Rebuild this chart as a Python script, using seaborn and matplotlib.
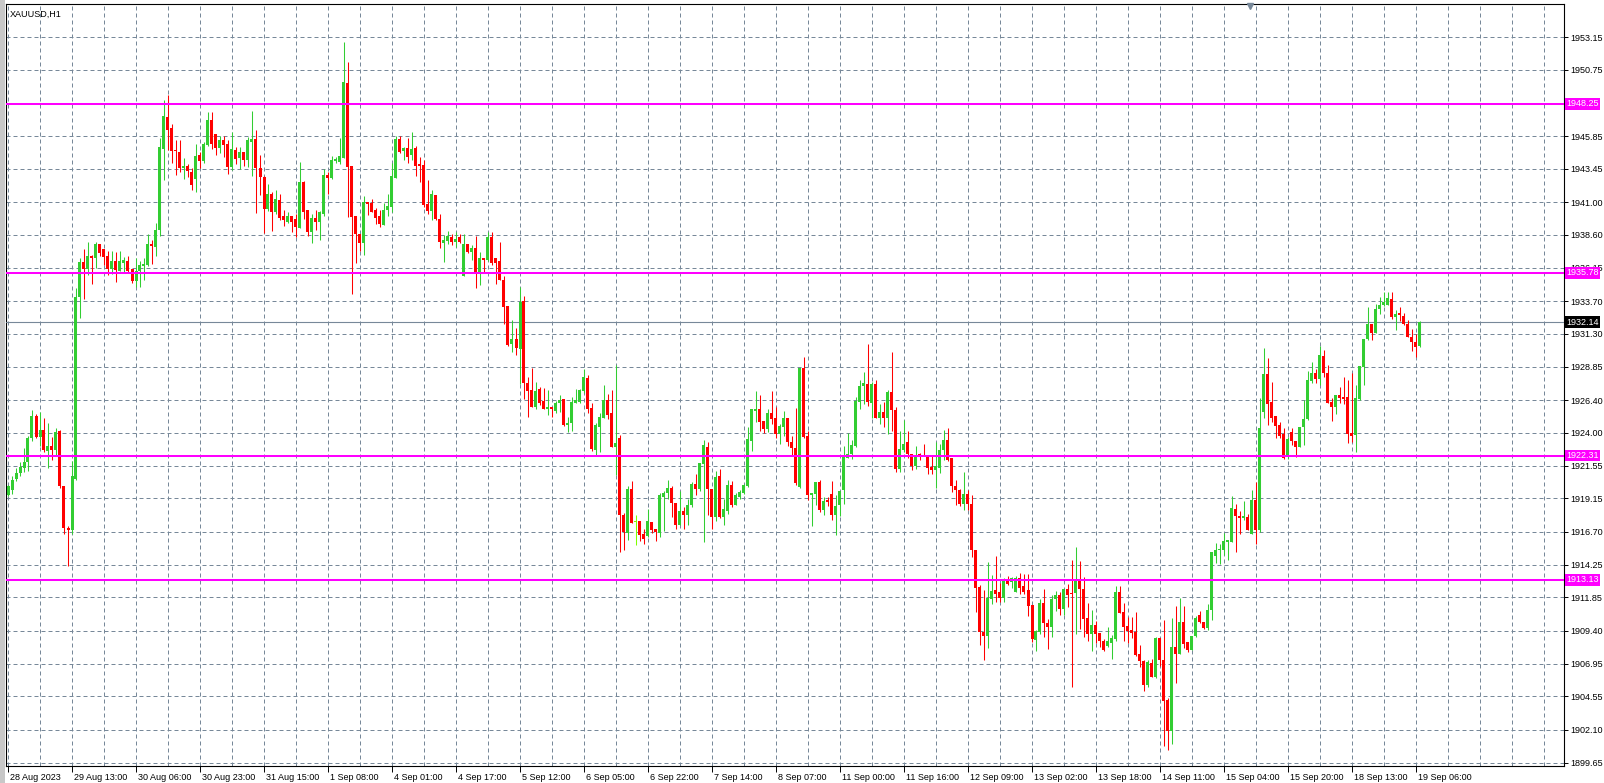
import matplotlib
matplotlib.use("Agg")
import matplotlib.pyplot as plt
import matplotlib.transforms as mtransforms
from matplotlib import font_manager
from matplotlib.patches import Rectangle
import numpy as np
import pandas as pd
import seaborn as sns

symbol_title = "XAUUSD,H1"

# hourly candles (bar 0 = 28 Aug 2023 20:00)
opens = [
    1919.40, 1919.79, 1920.58, 1921.00, 1921.37, 1921.81, 1923.58, 1925.26, 1923.68, 1924.22, 1922.65, 1923.04, 1922.70, 1924.12, 1920.09, 1916.99,
    1916.79, 1920.58, 1934.01, 1936.57, 1936.08, 1937.06, 1936.87, 1937.90, 1937.56, 1937.01, 1936.03, 1936.62, 1935.93, 1936.52, 1936.62, 1936.03,
    1935.17, 1935.90, 1936.25, 1936.35, 1937.92, 1937.72, 1938.95, 1944.91, 1947.27, 1946.43, 1944.86, 1944.71, 1943.48, 1943.68, 1943.24, 1942.69,
    1944.51, 1944.02, 1945.20, 1947.02, 1945.99, 1944.96, 1945.60, 1945.25, 1943.58, 1944.86, 1944.22, 1944.66, 1944.07, 1945.40, 1945.65, 1943.53,
    1942.85, 1940.48, 1941.57, 1940.24, 1941.18, 1939.94, 1939.55, 1939.94, 1939.75, 1939.06, 1942.50, 1940.39, 1938.76, 1939.85, 1939.50, 1940.14,
    1942.99, 1942.75, 1944.03, 1943.93, 1944.22, 1949.78, 1943.63, 1939.94, 1938.66, 1937.97, 1941.03, 1940.93, 1940.39, 1939.99, 1939.30, 1940.39,
    1940.65, 1942.81, 1945.62, 1944.78, 1944.98, 1944.44, 1944.98, 1943.80, 1943.75, 1940.85, 1940.31, 1941.54, 1939.76, 1937.99, 1938.14, 1938.44,
    1938.09, 1938.39, 1935.58, 1937.94, 1937.35, 1937.65, 1935.68, 1936.91, 1936.76, 1938.44, 1936.91, 1936.62, 1935.24, 1933.32, 1930.51, 1930.91,
    1930.20, 1933.74, 1927.69, 1927.15, 1925.87, 1927.20, 1926.36, 1925.77, 1925.87, 1925.62, 1926.16, 1926.46, 1924.54, 1924.69, 1926.16, 1926.26,
    1927.05, 1927.99, 1925.82, 1922.72, 1924.44, 1925.08, 1926.41, 1925.43, 1922.92, 1923.61, 1917.90, 1916.62, 1919.87, 1917.38, 1917.51, 1916.52,
    1916.37, 1917.41, 1916.92, 1916.62, 1919.28, 1919.52, 1919.92, 1918.79, 1917.21, 1918.24, 1917.95, 1918.64, 1920.21, 1919.82, 1921.69, 1922.97,
    1919.87, 1917.75, 1920.80, 1917.75, 1918.19, 1920.11, 1918.69, 1919.23, 1919.57, 1920.06, 1923.36, 1925.62, 1925.77, 1924.89, 1924.30, 1925.48,
    1925.06, 1923.88, 1924.42, 1925.06, 1923.34, 1922.89, 1919.99, 1928.80, 1923.78, 1919.40, 1919.45, 1920.39, 1918.32, 1919.01, 1919.50, 1917.92,
    1918.66, 1919.74, 1922.15, 1922.40, 1922.99, 1926.29, 1927.42, 1927.62, 1926.19, 1927.57, 1925.11, 1925.55, 1925.06, 1927.03, 1925.65, 1921.35,
    1922.74, 1923.28, 1922.45, 1921.56, 1922.40, 1922.35, 1922.35, 1921.46, 1921.27, 1921.41, 1922.74, 1923.43, 1922.10, 1920.04, 1919.74, 1918.71,
    1919.50, 1918.76, 1915.36, 1912.61, 1909.31, 1908.97, 1911.72, 1912.41, 1912.22, 1911.77, 1913.15, 1912.95, 1912.26, 1913.30, 1912.66, 1912.36,
    1911.26, 1908.70, 1909.29, 1911.40, 1909.98, 1909.63, 1911.75, 1912.00, 1910.96, 1912.44, 1912.19, 1912.14, 1913.17, 1912.49, 1910.32, 1909.14,
    1909.78, 1909.19, 1908.65, 1908.26, 1908.50, 1908.80, 1912.24, 1910.76, 1909.73, 1909.43, 1909.29, 1907.66, 1907.17, 1905.35, 1907.02, 1905.99,
    1908.87, 1907.25, 1904.30, 1902.00, 1908.18, 1907.69, 1910.05, 1908.52, 1907.98, 1908.97, 1910.54, 1910.05, 1909.56, 1910.89, 1914.92, 1915.31,
    1915.31, 1915.95, 1915.95, 1918.37, 1917.87, 1917.73, 1917.78, 1916.54, 1919.00, 1916.84, 1925.55, 1928.35, 1926.24, 1925.20, 1924.56, 1923.88,
    1922.17, 1924.04, 1923.40, 1922.96, 1924.39, 1924.98, 1927.83, 1928.42, 1927.98, 1929.65, 1928.42, 1926.26, 1925.87, 1926.75, 1926.65, 1926.65,
    1923.95, 1923.80, 1926.50, 1928.86, 1930.88, 1932.01, 1931.33, 1933.10, 1933.39, 1933.39, 1933.88, 1932.51, 1932.80, 1932.60, 1932.01, 1931.08,
    1930.69, 1930.39,
]
highs = [
    1920.14, 1920.83, 1921.42, 1921.81, 1922.89, 1923.78, 1925.65, 1925.40, 1925.50, 1925.11, 1924.71, 1923.68, 1924.37, 1924.22, 1920.09, 1917.14,
    1921.91, 1934.70, 1936.90, 1937.51, 1938.05, 1937.11, 1938.05, 1937.90, 1937.56, 1937.41, 1937.36, 1937.31, 1937.36, 1936.97, 1937.06, 1936.03,
    1936.84, 1936.64, 1936.89, 1938.66, 1938.17, 1939.45, 1945.70, 1948.55, 1948.89, 1946.78, 1945.55, 1945.55, 1944.27, 1943.83, 1943.53, 1945.25,
    1944.66, 1945.40, 1947.61, 1947.61, 1945.99, 1945.89, 1945.84, 1945.55, 1946.19, 1945.06, 1945.06, 1944.66, 1945.79, 1947.71, 1946.34, 1944.50,
    1942.90, 1942.35, 1941.71, 1941.91, 1941.57, 1940.44, 1940.24, 1939.94, 1940.09, 1943.93, 1942.55, 1940.39, 1940.14, 1940.44, 1940.34, 1943.44,
    1943.24, 1944.37, 1944.32, 1945.70, 1952.83, 1951.36, 1943.63, 1939.94, 1938.66, 1941.42, 1941.03, 1941.22, 1940.54, 1940.44, 1940.93, 1941.57,
    1943.90, 1945.91, 1945.91, 1945.08, 1945.72, 1946.16, 1945.13, 1944.34, 1944.09, 1942.62, 1941.88, 1941.54, 1940.11, 1938.58, 1938.88, 1938.68,
    1938.78, 1938.68, 1938.68, 1937.94, 1937.85, 1938.53, 1937.35, 1936.91, 1938.78, 1938.83, 1936.91, 1938.09, 1935.58, 1933.32, 1932.29, 1931.74,
    1934.73, 1934.04, 1928.13, 1928.77, 1927.74, 1927.35, 1927.30, 1927.15, 1925.87, 1926.31, 1926.80, 1926.51, 1925.13, 1926.61, 1927.20, 1927.25,
    1928.72, 1928.23, 1926.17, 1924.69, 1925.43, 1927.54, 1926.85, 1927.15, 1929.02, 1923.85, 1918.10, 1920.06, 1920.46, 1917.95, 1917.51, 1916.92,
    1918.34, 1917.41, 1916.92, 1919.52, 1919.67, 1920.51, 1920.06, 1918.79, 1919.72, 1918.49, 1919.13, 1920.36, 1920.95, 1921.74, 1923.46, 1923.31,
    1919.87, 1921.20, 1921.29, 1919.08, 1920.51, 1920.41, 1919.57, 1919.77, 1920.21, 1924.44, 1925.72, 1927.05, 1926.76, 1924.89, 1925.72, 1927.05,
    1925.90, 1924.67, 1925.60, 1925.06, 1923.78, 1925.85, 1928.80, 1929.54, 1924.12, 1919.55, 1920.34, 1920.53, 1919.25, 1919.25, 1920.44, 1919.40,
    1919.70, 1923.04, 1923.98, 1923.48, 1926.63, 1927.86, 1928.45, 1930.52, 1927.72, 1927.86, 1926.14, 1926.29, 1927.17, 1929.93, 1925.90, 1924.12,
    1924.91, 1924.12, 1922.45, 1922.99, 1922.50, 1923.18, 1922.35, 1922.35, 1923.33, 1923.18, 1924.17, 1924.32, 1922.10, 1920.53, 1919.84, 1921.12,
    1919.79, 1919.40, 1915.36, 1912.75, 1912.41, 1914.48, 1913.49, 1914.87, 1912.90, 1913.25, 1913.44, 1913.34, 1913.44, 1913.64, 1913.59, 1913.59,
    1911.26, 1909.43, 1911.75, 1912.44, 1910.27, 1912.00, 1912.34, 1912.24, 1912.44, 1912.83, 1914.60, 1915.54, 1914.55, 1913.37, 1911.45, 1910.91,
    1910.12, 1909.19, 1908.75, 1909.68, 1909.04, 1912.68, 1912.68, 1911.45, 1910.42, 1910.42, 1910.76, 1908.35, 1907.22, 1907.22, 1907.32, 1908.94,
    1908.87, 1910.15, 1904.40, 1910.30, 1911.18, 1911.82, 1911.23, 1908.52, 1909.02, 1910.45, 1910.84, 1910.05, 1911.33, 1915.17, 1915.86, 1915.76,
    1916.59, 1916.05, 1919.35, 1918.71, 1918.22, 1918.96, 1918.02, 1919.79, 1920.38, 1926.58, 1930.22, 1929.48, 1927.71, 1925.20, 1924.81, 1924.32,
    1923.70, 1924.34, 1923.40, 1924.44, 1926.41, 1928.57, 1929.21, 1928.72, 1930.39, 1930.10, 1929.01, 1926.55, 1926.75, 1927.34, 1928.08, 1927.88,
    1928.37, 1927.54, 1928.91, 1930.93, 1933.29, 1932.01, 1933.49, 1934.03, 1934.38, 1934.38, 1934.38, 1933.05, 1933.24, 1932.85, 1932.31, 1931.62,
    1931.28, 1932.26,
]
lows = [
    1919.35, 1919.45, 1920.43, 1920.83, 1921.12, 1921.17, 1923.39, 1923.63, 1922.99, 1922.60, 1921.37, 1922.01, 1922.30, 1919.94, 1916.50, 1914.19,
    1916.50, 1920.53, 1932.44, 1933.87, 1935.64, 1934.95, 1936.13, 1937.01, 1936.37, 1935.64, 1935.73, 1935.10, 1935.93, 1935.83, 1935.78, 1935.05,
    1934.77, 1934.72, 1935.22, 1936.30, 1936.40, 1936.99, 1938.51, 1942.60, 1944.86, 1943.92, 1942.99, 1943.24, 1942.69, 1942.84, 1941.86, 1941.76,
    1943.53, 1943.92, 1945.11, 1944.91, 1944.47, 1944.61, 1944.32, 1943.04, 1943.38, 1943.83, 1943.43, 1943.68, 1943.58, 1942.89, 1940.18, 1941.50,
    1938.71, 1940.34, 1938.86, 1940.09, 1939.70, 1939.25, 1939.45, 1938.76, 1938.42, 1939.06, 1939.75, 1938.52, 1937.98, 1938.96, 1938.17, 1939.99,
    1941.62, 1942.70, 1943.88, 1943.78, 1944.22, 1939.89, 1934.24, 1936.50, 1937.38, 1937.09, 1940.04, 1940.24, 1939.40, 1939.16, 1939.30, 1939.99,
    1940.26, 1942.81, 1944.64, 1944.09, 1943.85, 1944.14, 1942.91, 1942.47, 1940.65, 1940.11, 1939.67, 1939.67, 1937.65, 1936.57, 1937.89, 1937.80,
    1937.70, 1937.99, 1935.58, 1937.25, 1936.76, 1934.70, 1934.89, 1935.88, 1936.62, 1936.37, 1934.94, 1935.24, 1931.99, 1930.37, 1929.97, 1929.73,
    1927.59, 1926.51, 1925.13, 1925.87, 1925.77, 1926.02, 1925.72, 1925.28, 1925.18, 1925.48, 1925.53, 1924.49, 1924.05, 1924.15, 1926.16, 1926.21,
    1926.90, 1925.43, 1922.67, 1922.28, 1922.57, 1925.08, 1925.03, 1922.92, 1920.90, 1915.19, 1915.34, 1916.08, 1917.31, 1915.74, 1916.03, 1915.78,
    1916.33, 1916.62, 1915.98, 1916.33, 1916.77, 1919.08, 1917.75, 1916.87, 1917.21, 1916.87, 1917.16, 1918.49, 1919.38, 1919.72, 1915.93, 1917.95,
    1916.92, 1917.51, 1917.70, 1917.21, 1917.99, 1918.49, 1918.64, 1919.13, 1919.47, 1919.97, 1922.62, 1924.79, 1924.10, 1924.00, 1924.05, 1924.64,
    1923.63, 1923.14, 1923.73, 1922.99, 1922.35, 1920.14, 1919.94, 1923.63, 1919.06, 1917.09, 1918.66, 1918.17, 1917.92, 1918.61, 1917.58, 1916.45,
    1917.83, 1918.76, 1922.11, 1922.06, 1922.94, 1925.75, 1926.09, 1925.99, 1925.11, 1925.06, 1924.67, 1924.42, 1923.93, 1924.12, 1921.10, 1921.12,
    1922.59, 1922.15, 1921.22, 1921.32, 1921.95, 1922.25, 1920.97, 1920.92, 1919.94, 1921.02, 1921.95, 1921.90, 1919.64, 1918.66, 1918.56, 1918.31,
    1918.31, 1914.82, 1910.79, 1908.33, 1907.24, 1908.08, 1911.38, 1911.48, 1911.48, 1911.52, 1912.75, 1912.51, 1912.26, 1912.12, 1912.12, 1910.44,
    1908.55, 1907.86, 1909.14, 1908.94, 1908.01, 1908.94, 1910.86, 1910.52, 1910.52, 1911.11, 1905.25, 1909.14, 1909.48, 1908.94, 1908.60, 1907.86,
    1908.50, 1908.16, 1907.86, 1908.16, 1907.27, 1908.65, 1910.66, 1908.60, 1908.50, 1908.84, 1907.52, 1906.68, 1904.91, 1905.25, 1905.94, 1905.89,
    1906.80, 1900.90, 1900.60, 1901.00, 1905.52, 1907.64, 1908.08, 1907.84, 1907.98, 1908.92, 1909.95, 1909.51, 1909.46, 1910.15, 1914.38, 1914.33,
    1914.97, 1914.63, 1915.95, 1915.17, 1916.54, 1917.53, 1916.79, 1916.49, 1915.76, 1916.64, 1925.11, 1924.57, 1924.76, 1923.63, 1923.63, 1922.05,
    1922.08, 1923.11, 1922.22, 1922.96, 1923.06, 1924.93, 1927.68, 1927.68, 1927.49, 1928.13, 1926.16, 1924.83, 1925.37, 1926.21, 1926.11, 1923.21,
    1923.31, 1922.57, 1926.40, 1927.49, 1930.83, 1930.83, 1931.33, 1932.75, 1933.34, 1933.39, 1932.41, 1931.57, 1932.26, 1931.96, 1931.03, 1929.99,
    1929.55, 1930.34,
]
closes = [
    1920.04, 1920.53, 1921.02, 1921.47, 1921.86, 1923.63, 1925.26, 1923.68, 1924.22, 1922.70, 1923.04, 1922.70, 1924.07, 1920.04, 1916.94, 1916.79,
    1920.83, 1934.01, 1936.57, 1936.08, 1937.01, 1936.87, 1937.90, 1937.26, 1936.97, 1936.03, 1936.62, 1935.98, 1936.62, 1936.72, 1935.93, 1935.19,
    1935.95, 1936.35, 1936.40, 1937.92, 1937.77, 1938.95, 1945.06, 1947.32, 1946.29, 1944.76, 1944.76, 1943.48, 1943.68, 1943.28, 1942.25, 1944.42,
    1944.02, 1945.25, 1947.07, 1945.25, 1944.96, 1945.60, 1945.20, 1943.58, 1944.91, 1944.17, 1944.66, 1944.07, 1945.55, 1945.65, 1943.48, 1942.84,
    1940.48, 1941.57, 1940.24, 1941.22, 1939.80, 1939.65, 1939.94, 1939.55, 1939.16, 1942.45, 1940.24, 1938.76, 1939.85, 1939.50, 1940.29, 1942.99,
    1942.75, 1944.08, 1944.17, 1944.37, 1949.83, 1943.58, 1939.89, 1938.66, 1937.97, 1940.98, 1940.88, 1940.29, 1939.80, 1939.35, 1940.44, 1940.73,
    1942.91, 1945.62, 1944.73, 1944.98, 1944.29, 1944.93, 1943.65, 1943.65, 1940.75, 1940.31, 1941.58, 1939.72, 1938.04, 1938.19, 1938.49, 1938.09,
    1938.29, 1938.09, 1937.94, 1937.30, 1937.65, 1935.68, 1936.91, 1936.76, 1938.39, 1936.52, 1936.52, 1935.24, 1933.27, 1930.47, 1930.91, 1930.22,
    1933.64, 1927.69, 1927.10, 1925.87, 1927.10, 1926.21, 1925.77, 1925.87, 1925.77, 1926.21, 1926.41, 1924.54, 1924.74, 1926.26, 1926.41, 1927.15,
    1928.08, 1925.77, 1922.77, 1924.54, 1925.13, 1926.41, 1925.28, 1922.92, 1923.21, 1917.90, 1916.67, 1919.87, 1917.36, 1917.38, 1916.47, 1916.18,
    1917.46, 1916.82, 1916.67, 1919.38, 1919.57, 1919.92, 1918.79, 1917.21, 1918.24, 1917.95, 1918.69, 1920.21, 1919.87, 1921.74, 1923.07, 1919.87,
    1917.75, 1920.75, 1917.75, 1918.34, 1920.16, 1918.64, 1919.43, 1919.62, 1920.11, 1923.51, 1925.72, 1925.77, 1924.79, 1924.30, 1925.48, 1925.03,
    1923.88, 1924.52, 1925.06, 1923.29, 1922.84, 1920.29, 1928.80, 1923.68, 1919.40, 1919.55, 1920.34, 1918.32, 1918.96, 1918.86, 1917.92, 1918.61,
    1919.70, 1922.30, 1922.45, 1923.09, 1926.34, 1927.47, 1927.67, 1926.24, 1927.57, 1925.06, 1925.55, 1925.06, 1927.03, 1925.65, 1921.35, 1922.79,
    1923.18, 1922.40, 1921.56, 1922.35, 1922.20, 1922.30, 1921.37, 1921.27, 1921.56, 1922.74, 1923.48, 1922.00, 1920.04, 1919.74, 1918.71, 1919.50,
    1918.76, 1915.31, 1912.56, 1909.31, 1908.97, 1911.82, 1912.31, 1912.12, 1911.82, 1913.10, 1912.80, 1913.25, 1913.25, 1912.56, 1912.26, 1911.18,
    1908.80, 1909.39, 1911.40, 1909.98, 1909.63, 1911.75, 1912.00, 1910.96, 1912.44, 1912.04, 1912.09, 1913.17, 1912.44, 1910.22, 1909.14, 1909.83,
    1909.14, 1908.60, 1907.96, 1908.65, 1908.84, 1912.24, 1910.71, 1909.68, 1909.39, 1909.19, 1907.61, 1907.12, 1905.40, 1907.07, 1905.99, 1908.84,
    1907.20, 1904.20, 1902.00, 1908.18, 1907.69, 1910.05, 1908.43, 1907.98, 1909.02, 1910.35, 1910.00, 1909.56, 1910.94, 1915.17, 1915.36, 1915.41,
    1916.00, 1916.05, 1918.42, 1917.82, 1917.73, 1917.82, 1916.84, 1919.05, 1916.84, 1924.37, 1928.30, 1926.14, 1925.11, 1924.47, 1923.78, 1922.15,
    1923.55, 1923.36, 1922.96, 1924.44, 1925.03, 1927.88, 1928.42, 1927.98, 1929.70, 1928.42, 1926.16, 1925.87, 1926.75, 1926.55, 1926.50, 1923.90,
    1923.75, 1926.55, 1928.91, 1930.93, 1932.01, 1931.33, 1933.15, 1933.44, 1933.64, 1933.93, 1932.51, 1932.75, 1932.65, 1932.01, 1931.03, 1930.69,
    1930.29, 1932.14,
]

# time axis labels, one every 16 bars
time_labels = [
    "28 Aug 2023", "29 Aug 13:00", "30 Aug 06:00", "30 Aug 23:00", "31 Aug 15:00",
    "1 Sep 08:00", "4 Sep 01:00", "4 Sep 17:00", "5 Sep 12:00", "6 Sep 05:00",
    "6 Sep 22:00", "7 Sep 14:00", "8 Sep 07:00", "11 Sep 00:00", "11 Sep 16:00",
    "12 Sep 09:00", "13 Sep 02:00", "13 Sep 18:00", "14 Sep 11:00", "15 Sep 04:00",
    "15 Sep 20:00", "18 Sep 13:00", "19 Sep 06:00",
]
label_step = 16

price_ticks = [
    1899.65, 1902.10, 1904.55, 1906.95, 1909.40, 1911.85, 1914.25,
    1916.70, 1919.15, 1921.55, 1924.00, 1926.40, 1928.85, 1931.30,
    1933.70, 1936.15, 1938.60, 1941.00, 1943.45, 1945.85, 1948.30,
    1950.75, 1953.15,
]
# 1948.30 sits fully under the 1948.25 level box in the screenshot
hidden_tick_labels = [1948.30]
level_prices = [1948.25, 1935.78, 1922.31, 1913.13]
last_price = 1932.14

# colours
bull_color = "#32CD32"
bear_color = "#FF0000"
doji_color = "#7FFF00"
grid_color = "#778899"
level_color = "#FF00FF"

sns.set_theme(style="white")
installed = {f.name for f in font_manager.fontManager.ttflist}
if "Liberation Sans Narrow" in installed:
    label_font, fs = "Liberation Sans Narrow", 8.0
else:
    label_font, fs = "Liberation Sans", 6.5
plt.rcParams["font.family"] = [label_font, "DejaVu Sans"]

df = pd.DataFrame({"open": opens, "high": highs, "low": lows, "close": closes})
df["bar"] = np.arange(len(df))
df["color"] = np.where(df["close"] > df["open"], bull_color,
                       np.where(df["close"] < df["open"], bear_color, doji_color))
df["body_low"] = df[["open", "close"]].min(axis=1)
df["body_h"] = (df["close"] - df["open"]).abs().clip(lower=0.07)

W, H = 1604, 783
fig = plt.figure(figsize=(W / 100, H / 100), dpi=100, facecolor="white")
ax = fig.add_axes([6 / W, 17 / H, 1558 / W, 762 / H])
ax.set_facecolor("white")

# candles
ax.vlines(df["bar"], df["low"], df["high"], colors=df["color"], linewidth=0.75, zorder=3)
ax.bar(df["bar"], df["body_h"], bottom=df["body_low"], width=0.75,
       color=df["color"], linewidth=0, zorder=3)

ax.set_xlim(-0.5, 389)
ax.set_ylim(1899.41, 1955.61)

# horizontal levels
for p in level_prices:
    ax.axhline(p, color=level_color, linewidth=1.45, zorder=4)
ax.axhline(last_price, color=grid_color, linewidth=0.8, zorder=2.8)

# grid
ax.set_axisbelow(True)
ax.set_xticks(np.arange(0, 389, 8), minor=True)
ax.set_xticks(np.arange(len(time_labels)) * label_step)
ax.set_xticklabels(time_labels)
ax.set_yticks(price_ticks)
ax.set_yticklabels(["" if t in hidden_tick_labels else f"{t:.2f}" for t in price_ticks])
ax.grid(True, which="both", axis="x", color=grid_color, linewidth=0.72, linestyle=(0, (4, 3)))
ax.grid(True, which="major", axis="y", color=grid_color, linewidth=0.72, linestyle=(0, (4, 3)))

ax.yaxis.tick_right()
ax.tick_params(axis="y", which="major", right=True, left=False, length=3, width=0.7,
               pad=1.5, labelsize=fs, colors="black")
ax.tick_params(axis="x", which="major", bottom=True, length=4, width=0.7,
               pad=1, labelsize=fs, colors="black")
ax.tick_params(axis="x", which="minor", length=0)
offset = mtransforms.ScaledTranslation(2 / 100, 0, fig.dpi_scale_trans)
for lab in ax.get_xticklabels():
    lab.set_horizontalalignment("left")
    lab.set_transform(lab.get_transform() + offset)

for s in ax.spines.values():
    s.set_color("black")
    s.set_linewidth(0.8)

# price boxes on the right scale
blend = mtransforms.blended_transform_factory(ax.transAxes, ax.transData)
for p in level_prices:
    ax.text(1.0015, p, f"{p:.2f}", transform=blend, ha="left", va="center",
            color="white", fontsize=fs, zorder=6, clip_on=False,
            bbox=dict(boxstyle="square,pad=0.15", fc=level_color, ec="none"))
ax.text(1.0015, last_price, f"{last_price:.2f}", transform=blend, ha="left", va="center",
        color="white", fontsize=fs, zorder=6, clip_on=False,
        bbox=dict(boxstyle="square,pad=0.15", fc="black", ec="none"))

ax.text(0.0025, 0.993, symbol_title, transform=ax.transAxes, ha="left", va="top",
        fontsize=fs, color="black")
ax.plot([0.7985], [0.997], marker="v", markersize=5, color=grid_color,
        transform=ax.transAxes, clip_on=False, zorder=6)

# window border on the left
fig.patches.append(Rectangle((0, 0), 5 / W, 1, transform=fig.transFigure,
                             facecolor="#C8C8C8", edgecolor="none"))

fig.savefig("out.png", dpi=100, facecolor="white")
